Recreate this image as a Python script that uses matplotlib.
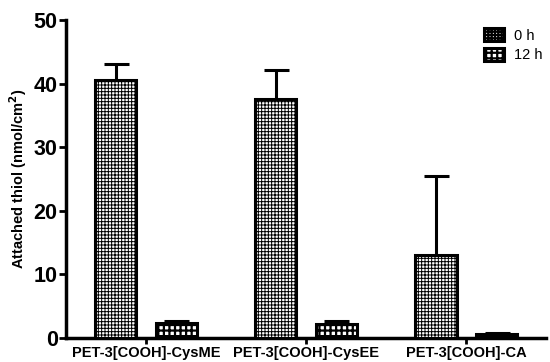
import numpy as np
import matplotlib.pyplot as plt

plt.rcParams['font.family'] = ['Liberation Sans', 'DejaVu Sans']

# data
groups = ['PET-3[COOH]-CysME', 'PET-3[COOH]-CysEE', 'PET-3[COOH]-CA']
h0 = [40.6, 37.5, 13.0]
h0_err = [2.5, 4.7, 12.5]
h12 = [2.4, 2.2, 0.6]
h12_err = [0.3, 0.5, 0.2]

x = np.arange(len(groups))
w = 0.26

fig = plt.figure(figsize=(5.5, 3.62), dpi=100)
ax = fig.add_axes([0.12, 0.066, 0.873, 0.879])

plt.rcParams['hatch.linewidth'] = 0.7
b0 = ax.bar(x - 0.19, h0, w, yerr=h0_err, facecolor='white', edgecolor='black',
            linewidth=2.2, hatch='+++++', label='0 h',
            error_kw=dict(capsize=9, capthick=2.2, elinewidth=2.2, ecolor='black'))
plt.rcParams['hatch.linewidth'] = 1.6
b1 = ax.bar(x + 0.19, h12, w, yerr=h12_err, facecolor='white', edgecolor='black',
            linewidth=2.2, hatch='+++', label='12 h',
            error_kw=dict(capsize=9, capthick=2.2, elinewidth=2.2, ecolor='black'))

# keep only the upper half of the error bars
for bars in (b0, b1):
    for art in bars.errorbar.lines[2]:
        segs = art.get_segments()
        art.set_segments([[s[0] if s[0][1] > s[1][1] else s[1], [s[0][0], (s[0][1] + s[1][1]) / 2]] for s in segs])
    caps = bars.errorbar.lines[1]
    if len(caps) == 2:
        caps[0].set_visible(False)
    for p in bars:
        p.set_zorder(3)

ax.set_xlim(-0.5, 2.5)
ax.set_ylim(0, 50)
ax.set_yticks([0, 10, 20, 30, 40, 50])
ax.set_xticks(x)
ax.set_xticklabels(groups, fontsize=10.5, fontweight='bold')
for t in ax.get_yticklabels():
    t.set_fontsize(15.5)
    t.set_fontweight('bold')
ax.tick_params(axis='y', width=2, length=5, pad=1)
ax.tick_params(axis='x', width=2, length=4, pad=2)
ax.set_ylabel('Attached thiol (nmol/cm$^\\mathbf{2}$)', fontsize=10.5, fontweight='bold', labelpad=3)

for s in ['top', 'right']:
    ax.spines[s].set_visible(False)
for s in ['left', 'bottom']:
    ax.spines[s].set_linewidth(2.5)

ax.legend(loc='upper right', bbox_to_anchor=(1.02, 1.015), frameon=False, fontsize=10.5,
          handlelength=1.35, handleheight=1.0, handletextpad=0.7, labelspacing=0.35)

fig.savefig('out.png', dpi=100)
